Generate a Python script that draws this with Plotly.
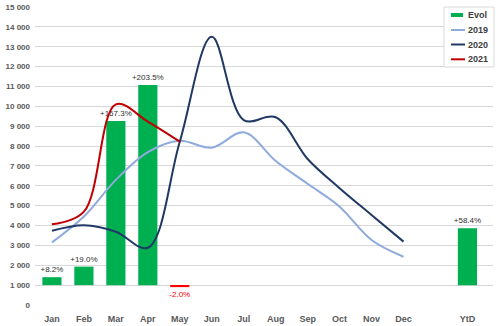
import plotly.graph_objects as go

months = ["Jan", "Feb", "Mar", "Apr", "May", "Jun", "Jul", "Aug", "Sep", "Oct", "Nov", "Dec"]
tick_labels = months + ["YtD"]
tick_pos = list(range(12)) + [13]

s2019 = [3150, 4450, 6300, 7700, 8270, 7920, 8690, 7250, 6100, 4950, 3270, 2430]
s2020 = [3740, 4020, 3690, 2880, 8220, 13500, 9310, 9450, 7350, 5880, 4530, 3190]
s2021 = [4060, 4700, 10100, 9230, 8220]

evol_pos = [0, 1, 2, 3, 4, 13]
evol_pct = [8.2, 19.0, 167.3, 203.5, -2.0, 58.4]
evol_height = [400, 930, 8260, 10070, -100, 2860]
evol_base = 1000

legend_names = ["Evol", "2019", "2020", "2021"]

FONT = "Liberation Sans"
GREEN = "#00B050"
RED_NEG = "#FF0000"
C2019 = "#8FAADC"
C2020 = "#1F3864"
C2021 = "#C00000"

bar_colors = [GREEN if p >= 0 else RED_NEG for p in evol_pct]
bar_text = [("+" if p >= 0 else "") + f"{p:.1f}%" for p in evol_pct]
text_colors = ["#303030" if p >= 0 else RED_NEG for p in evol_pct]

fig = go.Figure()
fig.add_trace(go.Bar(
    x=evol_pos, y=evol_height, base=evol_base, name="Evol",
    marker=dict(color=bar_colors, line=dict(width=0)),
    width=0.6,
    text=bar_text, textposition="outside", constraintext="none",
    textfont=dict(family=FONT, size=8, color=text_colors),
    cliponaxis=False, showlegend=False,
))
fig.add_trace(go.Scatter(
    x=list(range(12)), y=s2019, name="2019", mode="lines", showlegend=False,
    line=dict(color=C2019, width=2, shape="spline", smoothing=1),
))
fig.add_trace(go.Scatter(
    x=list(range(12)), y=s2020, name="2020", mode="lines", showlegend=False,
    line=dict(color=C2020, width=2, shape="spline", smoothing=1),
))
fig.add_trace(go.Scatter(
    x=list(range(5)), y=s2021, name="2021", mode="lines", showlegend=False,
    line=dict(color=C2021, width=2, shape="spline", smoothing=1),
))

# manual compact legend (pixel geometry converted to paper coords)
W, H = 500, 326
ML, MR, MT, MB = 35, 7, 7, 21
PW, PH = W - ML - MR, H - MT - MB

def px(x):
    return (x - ML) / PW

def py(y):
    return 1 - (y - MT) / PH

shapes = [dict(type="rect", xref="paper", yref="paper",
               x0=px(444), x1=px(494), y0=py(67), y1=py(7),
               line=dict(color="#D9D9D9", width=1), fillcolor="white", layer="above")]
annotations = []
row_y = [15, 30, 44.5, 59.3]
sym_colors = [GREEN, C2019, C2020, C2021]
for i, (name, yy, col) in enumerate(zip(legend_names, row_y, sym_colors)):
    if i == 0:
        shapes.append(dict(type="rect", xref="paper", yref="paper",
                           x0=px(451), x1=px(463), y0=py(yy + 2), y1=py(yy - 2),
                           line=dict(width=0), fillcolor=col, layer="above"))
    else:
        shapes.append(dict(type="line", xref="paper", yref="paper",
                           x0=px(451), x1=px(465), y0=py(yy), y1=py(yy),
                           line=dict(color=col, width=2), layer="above"))
    annotations.append(dict(xref="paper", yref="paper", x=px(466), y=py(yy),
                            xanchor="left", yanchor="middle", showarrow=False,
                            text=name, font=dict(family=FONT, size=9, color="#404040", weight="bold")))

fig.update_layout(
    width=W, height=H,
    margin=dict(l=ML, r=MR, t=MT, b=MB),
    paper_bgcolor="white", plot_bgcolor="white",
    font=dict(family=FONT, color="#595959"),
    separators=". ",
    showlegend=False,
    shapes=shapes, annotations=annotations,
)
fig.update_xaxes(
    range=[-0.53, 13.8], tickmode="array", tickvals=tick_pos, ticktext=tick_labels,
    showgrid=False, zeroline=False, showline=False, ticks="",
    tickfont=dict(family=FONT, size=9, color="#595959", weight="bold"),
    ticklabelstandoff=7, automargin=False,
)
fig.update_yaxes(
    range=[0, 15000], dtick=1000, tickformat=",d",
    showgrid=True, gridcolor="#D9D9D9", gridwidth=1,
    zeroline=False, showline=False, ticks="",
    tickfont=dict(family=FONT, size=8, color="#595959", weight="bold"),
    ticklabelstandoff=4, automargin=False,
)

fig.write_html("out.html")
